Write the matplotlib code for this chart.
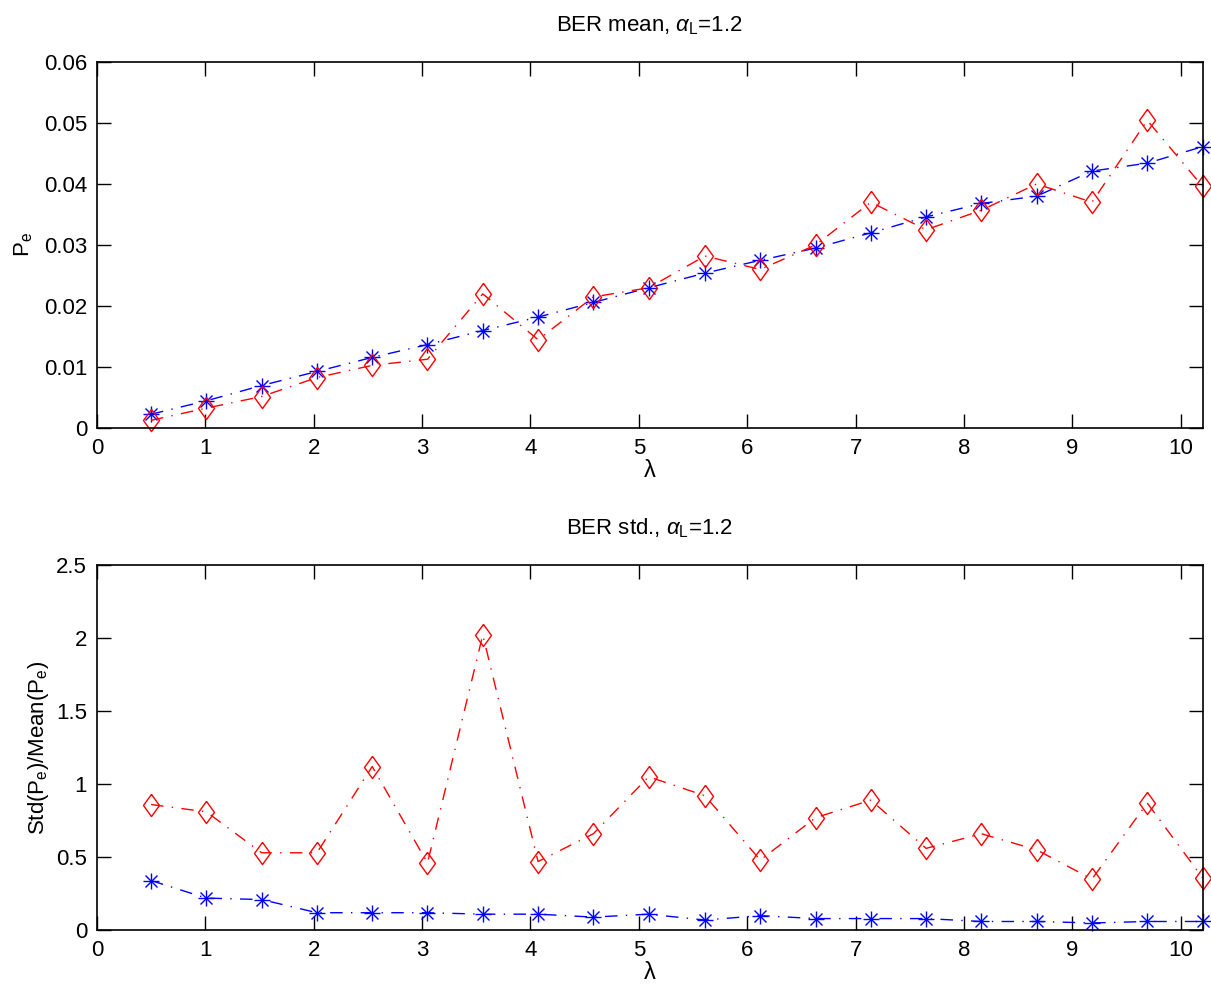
import matplotlib
matplotlib.use("Agg")
import matplotlib.pyplot as plt

plt.rcParams['font.family'] = ['Liberation Sans', 'DejaVu Sans']
plt.rcParams['mathtext.fontset'] = 'custom'
plt.rcParams['mathtext.rm'] = 'Liberation Sans'
plt.rcParams['mathtext.it'] = 'Liberation Sans:italic'
plt.rcParams['mathtext.sf'] = 'Liberation Sans'

lam = [0.5, 1.01, 1.52, 2.03, 2.54, 3.05, 3.56, 4.07, 4.58, 5.09,
       5.61, 6.12, 6.63, 7.14, 7.65, 8.16, 8.67, 9.18, 9.69, 10.2]

mean_blue = [0.0023, 0.0045, 0.0070, 0.0093, 0.0116, 0.0137, 0.0160, 0.0182, 0.0206, 0.0230,
             0.0254, 0.0275, 0.0295, 0.0320, 0.0346, 0.0368, 0.0380, 0.0421, 0.0434, 0.0461]
mean_red = [0.0013, 0.0033, 0.0052, 0.0083, 0.0103, 0.0113, 0.0220, 0.0145, 0.0215, 0.0230,
            0.0282, 0.0260, 0.0300, 0.0370, 0.0325, 0.0357, 0.0400, 0.0370, 0.0504, 0.0396]

std_red = [0.86, 0.81, 0.53, 0.53, 1.12, 0.46, 2.02, 0.47, 0.66, 1.05,
           0.92, 0.48, 0.77, 0.89, 0.56, 0.66, 0.55, 0.35, 0.87, 0.36]
std_blue = [0.34, 0.22, 0.21, 0.12, 0.12, 0.12, 0.11, 0.11, 0.09, 0.11,
            0.07, 0.10, 0.08, 0.08, 0.08, 0.06, 0.06, 0.05, 0.06, 0.06]

xticks = [0, 1, 2, 3, 4, 5, 6, 7, 8, 9, 10]
yticks_top = [0, 0.01, 0.02, 0.03, 0.04, 0.05, 0.06]
yticks_bot = [0, 0.5, 1, 1.5, 2, 2.5]

DASHDOT = (0, (9, 6, 1, 6))
DIAMOND = [(0, 1), (0.72, 0), (0, -1), (-0.72, 0), (0, 1)]

fig = plt.figure(figsize=(12.11, 9.96), dpi=100)
ax1 = fig.add_axes([0.080, 0.570, 0.913, 0.368])
ax2 = fig.add_axes([0.080, 0.066, 0.913, 0.367])


def draw(ax, yb, yr):
    ax.plot(lam, yb, color='blue', linestyle=DASHDOT, linewidth=1.0, clip_on=False)
    ax.plot(lam, yb, color='blue', linestyle='none', marker='+', markersize=11,
            markeredgewidth=1.0, clip_on=False)
    ax.plot(lam, yb, color='blue', linestyle='none', marker='x', markersize=8,
            markeredgewidth=1.0, clip_on=False)
    ax.plot(lam, yr, color='red', linestyle=DASHDOT, linewidth=1.0, clip_on=False)
    ax.plot(lam, yr, color='red', linestyle='none', marker=DIAMOND, markersize=16,
            markerfacecolor='none', markeredgewidth=1.0, clip_on=False)


def style(ax):
    ax.tick_params(direction='in', top=True, right=True, length=10, width=1,
                   labelsize=16, pad=7)
    for s in ax.spines.values():
        s.set_linewidth(1.2)
    ax.set_xlim(0, max(lam))
    ax.set_xticks(xticks)
    ax.set_xticklabels([str(t) for t in xticks])


draw(ax1, mean_blue, mean_red)
style(ax1)
ax1.set_ylim(0, 0.06)
ax1.set_yticks(yticks_top)
ax1.set_yticklabels(['0', '0.01', '0.02', '0.03', '0.04', '0.05', '0.06'])
ax1.set_title(r'BER mean, $\alpha_{\rm L}$=1.2', fontsize=16, pad=22)
ax1.set_xlabel('λ', fontsize=17, labelpad=1)
ax1.set_ylabel(r'P$_{\rm e}$', fontsize=16, labelpad=6)

draw(ax2, std_blue, std_red)
style(ax2)
ax2.set_ylim(0, 2.5)
ax2.set_yticks(yticks_bot)
ax2.set_yticklabels(['0', '0.5', '1', '1.5', '2', '2.5'])
ax2.set_title(r'BER std., $\alpha_{\rm L}$=1.2', fontsize=16, pad=22)
ax2.set_xlabel('λ', fontsize=17, labelpad=1)
ax2.set_ylabel(r'Std(P$_{\rm e}$)/Mean(P$_{\rm e}$)', fontsize=16, labelpad=4)

fig.savefig('out.png', dpi=100)
